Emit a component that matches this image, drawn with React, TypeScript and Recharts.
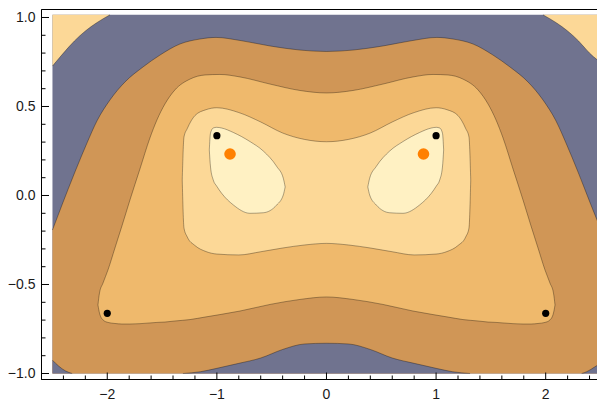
import React from "react";
import { ComposedChart, Area, Scatter, XAxis, YAxis, ReferenceLine } from "recharts";

// frame window and the filled patch inside it
const X_DOMAIN: [number, number] = [-2.6, 2.541];
const Y_DOMAIN: [number, number] = [-1.0337, 1.0449];
const FILL_X: [number, number] = [-2.5, 2.541];
const FILL_Y: [number, number] = [-1, 1.015];

const majorX = [-2, -1, 0, 1, 2];
const xLabels = ["−2", "−1", "0", "1", "2"];
const minorX = [-2.4, -2.2, -1.8, -1.6, -1.4, -1.2, -0.8, -0.6, -0.4, -0.2, 0.2, 0.4, 0.6, 0.8, 1.2, 1.4, 1.6, 1.8, 2.2, 2.4];
const majorY = [-1, -0.5, 0, 0.5, 1];
const yLabels = ["−1.0", "−0.5", "0.0", "0.5", "1.0"];
const minorY = [-0.9, -0.8, -0.7, -0.6, -0.4, -0.3, -0.2, -0.1, 0.1, 0.2, 0.3, 0.4, 0.6, 0.7, 0.8, 0.9];

// outer contour (dark / brown), top side
const brownTop: [number, number][] = [
  [-2.5, -0.194], [-2.413, -0.053], [-2.295, 0.132], [-2.185, 0.295], [-2.094, 0.419],
  [-1.975, 0.537], [-1.838, 0.638], [-1.674, 0.722], [-1.519, 0.789], [-1.337, 0.851],
  [-1.154, 0.879], [-1.008, 0.888], [-0.789, 0.871], [-0.515, 0.84], [-0.242, 0.817],
  [0, 0.809], [0.242, 0.817], [0.515, 0.84], [0.789, 0.871], [1.008, 0.888],
  [1.154, 0.879], [1.337, 0.851], [1.519, 0.789], [1.674, 0.722], [1.838, 0.638],
  [1.975, 0.537], [2.094, 0.419], [2.185, 0.295], [2.295, 0.132], [2.413, -0.053],
  [2.505, -0.194], [2.541, -0.25],
];

// low pockets along the bottom edge
const bumpLeft: [number, number][] = [[-2.5, -0.925], [-2.444, -0.958], [-2.383, -0.985], [-2.32, -1.0]];
const bumpMid: [number, number][] = [
  [-1.31, -1.0], [-1.15, -0.99], [-1.0, -0.971], [-0.8, -0.943], [-0.6, -0.913], [-0.4, -0.865],
  [-0.2, -0.834], [0, -0.83], [0.2, -0.834], [0.4, -0.865], [0.6, -0.913], [0.8, -0.943],
  [1.0, -0.971], [1.15, -0.99], [1.31, -1.0],
];
const bumpRight: [number, number][] = [[2.328, -1.0], [2.374, -0.99], [2.45, -0.962], [2.541, -0.928]];

// high corners at the top edge
const cornerLeft: [number, number][] = [[-2.5, 0.727], [-2.4, 0.8], [-2.3, 0.868], [-2.2, 0.924], [-2.1, 0.969], [-1.975, 1.015]];
const cornerRight: [number, number][] = [[1.975, 1.015], [2.1, 0.969], [2.2, 0.924], [2.3, 0.868], [2.4, 0.8], [2.541, 0.73]];

// closed contours as [x, lower y, upper y]
const tanLoop: [number, number, number][] = [
  [-2.085, -0.615, -0.615], [-2.071, -0.66, -0.548], [-2.039, -0.699, -0.492], [-1.994, -0.713, -0.419],
  [-1.93, -0.719, -0.295], [-1.866, -0.722, -0.171], [-1.793, -0.722, -0.025], [-1.702, -0.72, 0.149],
  [-1.611, -0.716, 0.323], [-1.547, -0.713, 0.424], [-1.474, -0.711, 0.514], [-1.383, -0.705, 0.593],
  [-1.245, -0.697, 0.654], [-1.109, -0.683, 0.677], [-0.972, -0.669, 0.68], [-0.789, -0.649, 0.666],
  [-0.515, -0.612, 0.626], [-0.242, -0.584, 0.59], [0, -0.57, 0.576],
  [0.242, -0.584, 0.59], [0.515, -0.612, 0.626], [0.789, -0.649, 0.666], [0.972, -0.669, 0.68],
  [1.109, -0.683, 0.677], [1.245, -0.697, 0.654], [1.383, -0.705, 0.593], [1.474, -0.711, 0.514],
  [1.547, -0.713, 0.424], [1.611, -0.716, 0.323], [1.702, -0.72, 0.149], [1.793, -0.722, -0.025],
  [1.866, -0.722, -0.171], [1.93, -0.719, -0.295], [1.994, -0.713, -0.419], [2.039, -0.699, -0.492],
  [2.071, -0.66, -0.548], [2.085, -0.615, -0.615],
];
const lightLoop: [number, number, number][] = [
  [-1.316, 0.087, 0.087], [-1.3, -0.183, 0.329], [-1.27, -0.233, 0.376], [-1.2, -0.281, 0.449],
  [-1.099, -0.315, 0.482], [-1.0, -0.329, 0.493], [-0.8, -0.334, 0.466], [-0.6, -0.316, 0.413],
  [-0.4, -0.295, 0.351], [-0.2, -0.278, 0.315], [0, -0.269, 0.302],
  [0.2, -0.278, 0.315], [0.4, -0.295, 0.351], [0.6, -0.316, 0.413], [0.8, -0.334, 0.466],
  [1.0, -0.329, 0.493], [1.099, -0.315, 0.482], [1.2, -0.281, 0.449], [1.27, -0.233, 0.376],
  [1.3, -0.183, 0.329], [1.316, 0.087, 0.087],
];
const dropLeft: [number, number, number][] = [
  [-1.069, 0.256, 0.256], [-1.058, 0.16, 0.351], [-1.033, 0.087, 0.379], [-1.002, 0.053, 0.383],
  [-0.956, 0.012, 0.379], [-0.85, -0.053, 0.354], [-0.698, -0.1, 0.303], [-0.577, -0.097, 0.25],
  [-0.454, -0.053, 0.163], [-0.394, 0.003, 0.097], [-0.377, 0.048, 0.048],
];
const dropRight: [number, number, number][] = [
  [0.377, 0.048, 0.048], [0.394, 0.003, 0.097], [0.454, -0.053, 0.163], [0.577, -0.097, 0.25],
  [0.698, -0.1, 0.303], [0.85, -0.053, 0.354], [0.956, 0.012, 0.379], [1.002, 0.053, 0.383],
  [1.033, 0.087, 0.379], [1.058, 0.16, 0.351], [1.069, 0.256, 0.256],
];

// critical points
const blackPts: [number, number][] = [[-1.0, 0.336], [1.0, 0.336], [-2.0, -0.662], [2.0, -0.662]];
const orangePts: [number, number][] = [[-0.88, 0.233], [0.885, 0.233]];

const C_DARK = "#70738f";
const C_BROWN = "#d09656";
const C_TAN = "#efb96c";
const C_LIGHT = "#fcd897";
const C_TOP = "#fff1c3";
const INK = "#000";
const TEXT = "#1a1a1a";
const FONT = "'Liberation Sans', Arial, sans-serif";
const EDGE = { stroke: "#000", strokeOpacity: 0.32, strokeWidth: 1 };

const pts = (a: [number, number][]) => a.map(([x, y]) => ({ x, y }));
const loop = (a: [number, number, number][]) => a.map(([x, lo, hi]) => ({ x, y: [lo, hi] }));

const background = [{ x: FILL_X[0], y: FILL_Y[1] }, { x: FILL_X[1], y: FILL_Y[1] }];

function BottomTick(p: any) {
  const i = majorX.indexOf(p.payload.value);
  return (
    <g>
      <line x1={p.x} x2={p.x} y1={p.y} y2={p.y - (i >= 0 ? 7 : 4)} stroke={INK} strokeWidth={1} />
      {i >= 0 && (
        <text x={p.x} y={p.y + 19.3} textAnchor="middle" fontSize={14} fontFamily={FONT} fill={TEXT}>
          {xLabels[i]}
        </text>
      )}
    </g>
  );
}

function TopTick(p: any) {
  const major = majorX.includes(p.payload.value);
  return <line x1={p.x} x2={p.x} y1={p.y} y2={p.y + (major ? 7 : 4)} stroke={INK} strokeWidth={1} />;
}

function LeftTick(p: any) {
  const i = majorY.indexOf(p.payload.value);
  return (
    <g>
      <line x1={p.x} x2={p.x + (i >= 0 ? 7.5 : 4)} y1={p.y} y2={p.y} stroke={INK} strokeWidth={1} />
      {i >= 0 && (
        <text x={p.x - 6} y={p.y + 4.9} textAnchor="end" fontSize={14} fontFamily={FONT} fill={TEXT}>
          {yLabels[i]}
        </text>
      )}
    </g>
  );
}

export default function App() {
  const xTicks = [...majorX, ...minorX].sort((a, b) => a - b);
  const yTicks = [...majorY, ...minorY].sort((a, b) => a - b);
  const region = (key: string, data: any[], fill: string, base?: number, edge = true) => (
    <Area
      key={key}
      data={data}
      dataKey="y"
      type="monotone"
      baseValue={base}
      fill={fill}
      fillOpacity={1}
      stroke={edge ? EDGE.stroke : "none"}
      strokeOpacity={EDGE.strokeOpacity}
      strokeWidth={EDGE.strokeWidth}
      dot={false}
      activeDot={false}
      isAnimationActive={false}
    />
  );
  const frame = { stroke: INK, strokeWidth: 1 };
  return (
    <div style={{ width: 597, height: 393 }}>
      <ComposedChart width={597} height={393} margin={{ top: 1.5, right: 0, bottom: 0, left: 0 }}>
        {region("bg", background, C_DARK, FILL_Y[0], false)}
        {region("brown", pts(brownTop), C_BROWN, FILL_Y[0])}
        {region("bl", pts(bumpLeft), C_DARK, FILL_Y[0])}
        {region("bm", pts(bumpMid), C_DARK, FILL_Y[0])}
        {region("br", pts(bumpRight), C_DARK, FILL_Y[0])}
        {region("cl", pts(cornerLeft), C_LIGHT, FILL_Y[1])}
        {region("cr", pts(cornerRight), C_LIGHT, FILL_Y[1])}
        {region("tan", loop(tanLoop), C_TAN)}
        {region("light", loop(lightLoop), C_LIGHT)}
        {region("dl", loop(dropLeft), C_TOP)}
        {region("dr", loop(dropRight), C_TOP)}
        <Scatter
          data={pts(orangePts)}
          dataKey="y"
          isAnimationActive={false}
          shape={(p: any) => <circle cx={p.cx} cy={p.cy} r={5.8} fill="#ff8000" />}
        />
        <Scatter
          data={pts(blackPts)}
          dataKey="y"
          isAnimationActive={false}
          shape={(p: any) => <circle cx={p.cx} cy={p.cy} r={3.6} fill="#000" />}
        />
        {/* frame edges */}
        <ReferenceLine x={X_DOMAIN[0]} {...frame} />
        <ReferenceLine y={Y_DOMAIN[1]} {...frame} />
        <ReferenceLine y={Y_DOMAIN[0]} {...frame} />
        <XAxis
          type="number"
          dataKey="x"
          domain={X_DOMAIN}
          allowDataOverflow
          ticks={xTicks}
          interval={0}
          height={21.5}
          tickSize={0}
          tickMargin={0}
          tickLine={false}
          axisLine={frame}
          tick={BottomTick}
        />
        <XAxis
          xAxisId="top"
          orientation="top"
          type="number"
          dataKey="x"
          domain={X_DOMAIN}
          allowDataOverflow
          ticks={xTicks}
          interval={0}
          height={0}
          tickSize={0}
          tickMargin={0}
          tickLine={false}
          axisLine={frame}
          tick={TopTick}
        />
        <YAxis
          type="number"
          dataKey="y"
          domain={Y_DOMAIN}
          allowDataOverflow
          ticks={yTicks}
          interval={0}
          width={33.5}
          tickSize={0}
          tickMargin={0}
          tickLine={false}
          axisLine={frame}
          tick={LeftTick}
        />
      </ComposedChart>
    </div>
  );
}
